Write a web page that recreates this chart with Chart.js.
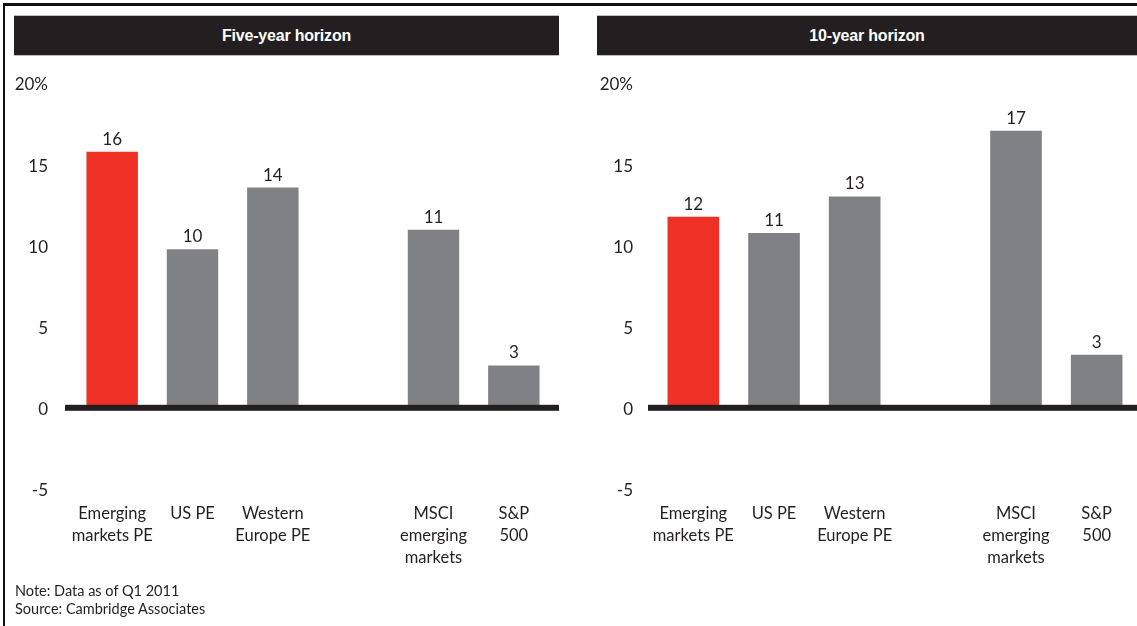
<!DOCTYPE html>
<html>
<head>
<meta charset="utf-8">
<script src="https://cdn.jsdelivr.net/npm/chart.js@4.4.1/dist/chart.umd.min.js"></script>
<style>
  html, body { margin: 0; padding: 0; background: #fff; }
  body { width: 1137px; height: 626px; position: relative; overflow: hidden; font-family: Lato, "Open Sans", sans-serif; color: #231F20; }
  .frame { position: absolute; left: 3px; top: 3px; width: 1140px; height: 640px; border-top: 3px solid #111; border-left: 2px solid #111; box-sizing: border-box; }
  .hdr { position: absolute; top: 15px; height: 41px; background: #231F20; border-top: 1px solid #bdbdbd; border-bottom: 1px solid #bdbdbd; box-sizing: border-box;
         color: #fff; font-family: "Liberation Sans Narrow", "Liberation Sans", sans-serif; font-weight: bold; font-size: 16px; line-height: 39px; text-align: center; letter-spacing: -0.2px; }
  .panel { position: absolute; top: 0; height: 626px; }
  .note { position: absolute; left: 15px; top: 582px; font-size: 14.5px; line-height: 18px; color: #231F20; }
</style>
</head>
<body>
<div class="frame"></div>
<div class="panel" style="left:0;width:570px;"><canvas id="c1" width="570" height="626"></canvas></div>
<div class="panel" style="left:570px;width:567px;"><canvas id="c2" width="567" height="626"></canvas></div>
<div class="hdr" style="left:14px;width:545px;">Five-year horizon</div>
<div class="hdr" style="left:597px;width:540px;">10-year horizon</div>
<div class="note">Note: Data as of Q1 2011<br>Source: Cambridge Associates</div>
<script>
// ---- data ----
const categories = [['Emerging', 'markets PE'], ['US PE'], ['Western', 'Europe PE'], '', ['MSCI', 'emerging', 'markets'], ['S&P', '500']];
const fiveYear = [15.7, 9.7, 13.5, null, 10.9, 2.55];
const tenYear = [11.7, 10.7, 12.95, null, 17.0, 3.2];
const barColors = ['#EE3124', '#808184', '#808184', '#808184', '#808184', '#808184'];
const yMin = -5, yMax = 20, yStep = 5;

const textColor = '#231F20';
const fontFam = 'Lato, "Open Sans", sans-serif';

const zeroLine = {
  id: 'zeroLine',
  afterDatasetsDraw(chart, args, opts) {
    const { ctx, chartArea } = chart;
    const y = chart.scales.y.getPixelForValue(0);
    ctx.save();
    ctx.fillStyle = '#231F20';
    ctx.fillRect(chartArea.left - opts.extLeft, y - 2, chartArea.right - chartArea.left + opts.extLeft + opts.extRight, 6);
    ctx.restore();
  }
};

const valueLabels = {
  id: 'valueLabels',
  afterDatasetsDraw(chart) {
    const { ctx } = chart;
    const ds = chart.data.datasets[0];
    const meta = chart.getDatasetMeta(0);
    ctx.save();
    ctx.fillStyle = textColor;
    ctx.font = '17px ' + fontFam;
    ctx.textAlign = 'center';
    ctx.textBaseline = 'alphabetic';
    meta.data.forEach((bar, i) => {
      const v = ds.data[i];
      if (v === null || v === undefined) return;
      ctx.fillText(String(Math.round(v)), bar.x, bar.y - 7);
    });
    ctx.restore();
  }
};

function makeChart(id, values, yWidth, tickPad, rightPad, extLeft, extRight) {
  return new Chart(document.getElementById(id), {
    type: 'bar',
    data: {
      labels: categories,
      datasets: [{
        data: values,
        backgroundColor: barColors,
        borderWidth: 0,
        barPercentage: 0.64,
        categoryPercentage: 1.0
      }]
    },
    options: {
      responsive: false,
      animation: false,
      events: [],
      layout: { padding: { top: 82, bottom: 38, left: 0, right: rightPad } },
      plugins: {
        legend: { display: false },
        tooltip: { enabled: false },
        title: { display: false },
        zeroLine: { extLeft: extLeft, extRight: extRight }
      },
      scales: {
        x: {
          offset: true,
          grid: { display: false, drawTicks: false },
          border: { display: false },
          ticks: {
            autoSkip: false, maxRotation: 0, minRotation: 0,
            padding: 15,
            color: textColor,
            font: { family: fontFam, size: 16.5, lineHeight: 1.32 }
          },
          afterFit(scale) { scale.height = 100; }
        },
        y: {
          min: yMin, max: yMax,
          grid: { display: false, drawTicks: false },
          border: { display: false },
          ticks: {
            stepSize: yStep,
            padding: tickPad,
            labelOffset: 3,
            color: textColor,
            font: { family: fontFam, size: 17 },
            callback: (v) => v === yMax ? v + '%' : String(v)
          },
          afterFit(scale) { scale.width = yWidth; }
        }
      }
    },
    plugins: [zeroLine, valueLabels]
  });
}

makeChart('c1', fiveYear, 72, 24, 16, 7, 5);
makeChart('c2', tenYear, 83, 20, 0, 5, 0);
</script>
</body>
</html>
